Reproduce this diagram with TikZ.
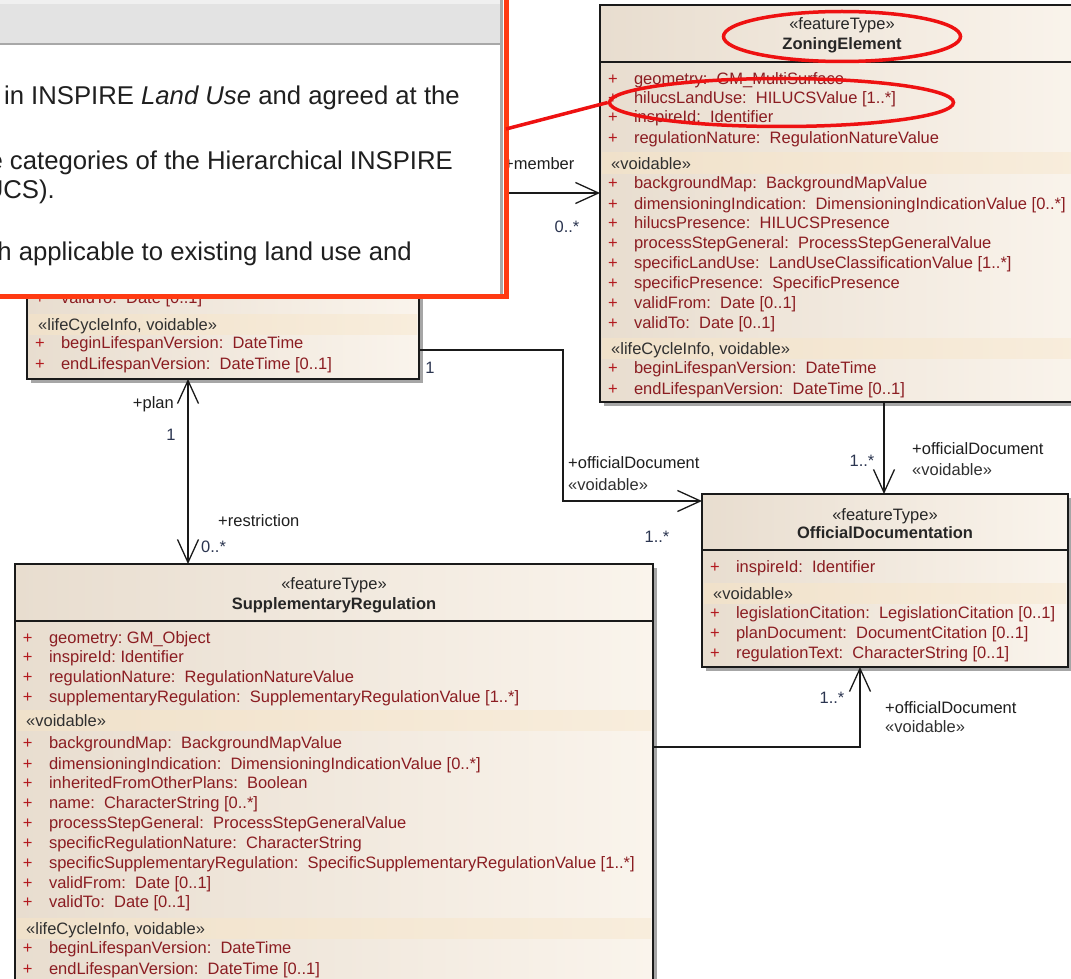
\documentclass[tikz,border=0pt]{standalone}
\usepackage{fontspec}
\setmainfont{Liberation Sans}
\usetikzlibrary{arrows.meta,shapes.geometric,shadows}
\definecolor{attrred}{HTML}{8B1D22}
\definecolor{plusred}{HTML}{B3191E}
\definecolor{stereo}{HTML}{303030}
\definecolor{multc}{HTML}{2B3550}
\definecolor{bodyL}{HTML}{E8DDCF}
\definecolor{bodyR}{HTML}{FAF4EC}
\definecolor{bandL}{HTML}{F0E1CA}
\definecolor{bandR}{HTML}{F8EDDC}
\definecolor{popred}{HTML}{FF3A12}
\definecolor{markred}{HTML}{EE1111}
\definecolor{bargray}{HTML}{E3E3E3}
\definecolor{bordergray}{HTML}{A8A8A8}
\definecolor{linec}{HTML}{1A1A1A}
\newcommand{\ufont}{\fontsize{16.5}{19.8}\selectfont}
\newcommand{\pfont}{\fontsize{25.7}{28}\selectfont}
\tikzset{
  umlbox/.style={draw=linec, line width=1.3, left color=bodyL, right color=bodyR,
    anchor=north west, inner sep=0, outer sep=0,
    drop shadow={shadow xshift=4pt, shadow yshift=-4pt, fill=black!35, opacity=1}},
  sepline/.style={draw=linec, line width=1.3},
  umltxt/.style={font=\ufont, inner sep=0, outer sep=0, anchor=base west, text=attrred},
  plustxt/.style={font=\ufont, inner sep=0, outer sep=0, anchor=base west, text=plusred},
  stereotxt/.style={font=\ufont, inner sep=0, anchor=base west, text=stereo},
  headtxt/.style={font=\ufont, inner sep=0, anchor=base, text=black!85},
  lbl/.style={font=\ufont, inner sep=0, anchor=base west, text=black!88},
  mult/.style={font=\ufont, inner sep=0, anchor=base, text=multc},
  assoc/.style={draw=linec, line width=1.3},
  ptxt/.style={font=\pfont, inner sep=0, anchor=base east, text=black!88},
  redmark/.style={draw=markred, line width=3.5},
  >={Straight Barb[length=23pt,width=21pt]}
}
\newcommand{\attrrow}[4]{\node[plustxt] (#1p) at (#2+8,#3+5) {+};\node[umltxt] (#1) at (#2+34,#3+5) {#4};}
\newcommand{\bandrow}[5]{\fill[left color=bandL,right color=bandR] (#2+2,#4-11) rectangle (#3-2,#4+9);\node[stereotxt] (#1) at (#2+11,#4+5) {#5};}
\begin{document}
\begin{tikzpicture}[x=1pt,y=-1pt]
\useasboundingbox (0,0) rectangle (1071,979);
\clip (0,0) rectangle (1071,979);
\fill[white] (0,0) rectangle (1071,979);

% ---------- ZoningElement ----------
\node[umlbox, minimum width=484, minimum height=397] (ze) at (600,5) {};
\draw[sepline] ([shift={(0,57)}]ze.north west) -- ([shift={(0,57)}]ze.north east);
\node[headtxt] (zeS) at (842,30) {«featureType»};
\node[headtxt,font=\ufont\bfseries] (zeN) at (842,50) {ZoningElement};
\attrrow{ze1}{600}{80}{geometry:~~GM\_MultiSurface}
\attrrow{ze2}{600}{99}{hilucsLandUse:~~HILUCSValue [1..*]}
\attrrow{ze3}{600}{118}{inspireId:~~Identifier}
\attrrow{ze4}{600}{138}{regulationNature:~~RegulationNatureValue}
\bandrow{zeB1}{600}{1084}{164}{«voidable»}
\attrrow{ze5}{600}{184}{backgroundMap:~~BackgroundMapValue}
\attrrow{ze6}{600}{204}{dimensioningIndication:~~DimensioningIndicationValue [0..*]}
\attrrow{ze7}{600}{223}{hilucsPresence:~~HILUCSPresence}
\attrrow{ze8}{600}{243}{processStepGeneral:~~ProcessStepGeneralValue}
\attrrow{ze9}{600}{263}{specificLandUse:~~LandUseClassificationValue [1..*]}
\attrrow{ze10}{600}{283}{specificPresence:~~SpecificPresence}
\attrrow{ze11}{600}{303}{validFrom:~~Date [0..1]}
\attrrow{ze12}{600}{323}{validTo:~~Date [0..1]}
\bandrow{zeB2}{600}{1084}{349}{«lifeCycleInfo, voidable»}
\attrrow{ze13}{600}{368}{beginLifespanVersion:~~DateTime}
\attrrow{ze14}{600}{389}{endLifespanVersion:~~DateTime [0..1]}

% ---------- SpatialPlan (partly hidden) ----------
\node[umlbox, minimum width=392, minimum height=229] (sp) at (27,150) {};
\attrrow{sp1}{27}{298}{validTo:~~Date [0..1]}
\bandrow{spB1}{27}{419}{325}{«lifeCycleInfo, voidable»}
\attrrow{sp2}{27}{343}{beginLifespanVersion:~~DateTime}
\attrrow{sp3}{27}{364}{endLifespanVersion:~~DateTime [0..1]}

% ---------- OfficialDocumentation ----------
\node[umlbox, minimum width=366, minimum height=173] (od) at (702,494) {};
\draw[sepline] ([shift={(0,56)}]od.north west) -- ([shift={(0,56)}]od.north east);
\node[headtxt] (odS) at (885,520) {«featureType»};
\node[headtxt,font=\ufont\bfseries] (odN) at (885,538) {OfficialDocumentation};
\attrrow{od1}{702}{567}{inspireId:~~Identifier}
\bandrow{odB1}{702}{1068}{594}{«voidable»}
\attrrow{od2}{702}{613}{legislationCitation:~~LegislationCitation [0..1]}
\attrrow{od3}{702}{633}{planDocument:~~DocumentCitation [0..1]}
\attrrow{od4}{702}{653}{regulationText:~~CharacterString [0..1]}

% ---------- SupplementaryRegulation ----------
\node[umlbox, minimum width=638, minimum height=440] (sr) at (15,564) {};
\draw[sepline] ([shift={(0,57)}]sr.north west) -- ([shift={(0,57)}]sr.north east);
\node[headtxt] (srS) at (334,589) {«featureType»};
\node[headtxt,font=\ufont\bfseries] (srN) at (334,609) {SupplementaryRegulation};
\attrrow{sr1}{15}{638}{geometry:~GM\_Object}
\attrrow{sr2}{15}{657}{inspireId:~Identifier}
\attrrow{sr3}{15}{677}{regulationNature:~~RegulationNatureValue}
\attrrow{sr4}{15}{697}{supplementaryRegulation:~~SupplementaryRegulationValue [1..*]}
\bandrow{srB1}{15}{653}{721}{«voidable»}
\attrrow{sr5}{15}{743}{backgroundMap:~~BackgroundMapValue}
\attrrow{sr6}{15}{764}{dimensioningIndication:~~DimensioningIndicationValue [0..*]}
\attrrow{sr7}{15}{783}{inheritedFromOtherPlans:~~Boolean}
\attrrow{sr8}{15}{803}{name:~~CharacterString [0..*]}
\attrrow{sr9}{15}{823}{processStepGeneral:~~ProcessStepGeneralValue}
\attrrow{sr10}{15}{843}{specificRegulationNature:~~CharacterString}
\attrrow{sr11}{15}{863}{specificSupplementaryRegulation:~~SpecificSupplementaryRegulationValue [1..*]}
\attrrow{sr12}{15}{883}{validFrom:~~Date [0..1]}
\attrrow{sr13}{15}{902}{validTo:~~Date [0..1]}
\bandrow{srB2}{15}{653}{929}{«lifeCycleInfo, voidable»}
\attrrow{sr14}{15}{948}{beginLifespanVersion:~~DateTime}
\attrrow{sr15}{15}{969}{endLifespanVersion:~~DateTime [0..1]}

% ---------- connectors ----------
\coordinate (memberfree) at (470,193);
\draw[assoc,->] (memberfree) -- ([shift={(0,188)}]ze.north west);
\node[lbl] (lmember) at (504,169) {+member};
\node[mult] (mmember) at (567,232) {0..*};

\draw[assoc,<->] ([shift={(161,0)}]sp.south west) -- ([shift={(173,0)}]sr.north west);
\node[lbl,anchor=base east] (lplan) at (174,408) {+plan};
\node[mult] (mplan) at (171,440) {1};
\node[lbl] (lrestr) at (218,526) {+restriction};
\node[lbl,text=multc] (mrestr) at (201,552) {0..*};

\draw[assoc,->] ([shift={(0,-29)}]sp.south east) -- ++(144,0) |- ([shift={(0,7)}]od.north west);
\node[mult] (msp) at (430,373) {1};
\node[lbl] (lod1) at (568,468) {+officialDocument};
\node[lbl,text=stereo] (lod1v) at (568,490) {«voidable»};
\node[mult] (mod1) at (657,542) {1..*};

\draw[assoc,->] ([shift={(284,0)}]ze.south west) -- ([shift={(182,0)}]od.north west);
\node[mult] (mze) at (862,466) {1..*};
\node[lbl] (lod2) at (912,454) {+officialDocument};
\node[lbl,text=stereo] (lod2v) at (912,475) {«voidable»};

\draw[assoc,->] ([shift={(0,183)}]sr.north east) -| ([shift={(158,0)}]od.south west);
\node[mult] (msr) at (832,703) {1..*};
\node[lbl] (lod3) at (885,713) {+officialDocument};
\node[lbl,text=stereo] (lod3v) at (885,732) {«voidable»};

% ---------- popup overlay ----------
\fill[white] (-10,-10) rectangle (504,296);
\fill[black!6] (-10,-10) rectangle (501,4);
\fill[bargray] (-10,4) rectangle (501,43);
\draw[bordergray, line width=2.5] (-10,44) -- (501,44);
\draw[bordergray, line width=3] (501.5,0) -- (501.5,296);
\node[ptxt] (p1) at (460,105) {in INSPIRE \textit{Land Use} and agreed at the};
\node[ptxt] (p2) at (453,170) {e categories of the Hierarchical INSPIRE};
\node[ptxt] (p3) at (55,198) {UCS).};
\node[ptxt] (p4) at (412,260) {h applicable to existing land use and};
\draw[popred, line width=5] (-10,-10) rectangle (506,296);

% ---------- red marks ----------
\node[redmark, ellipse, minimum width=237, minimum height=50, inner sep=0] (ell1) at (842,36.5) {};
\node[redmark, ellipse, minimum width=344, minimum height=48, inner sep=0] (ell2) at (781.5,102.5) {};
\coordinate (callout) at (506,129);
\draw[redmark] (callout) -- (ell2.west);
\end{tikzpicture}
\end{document}
